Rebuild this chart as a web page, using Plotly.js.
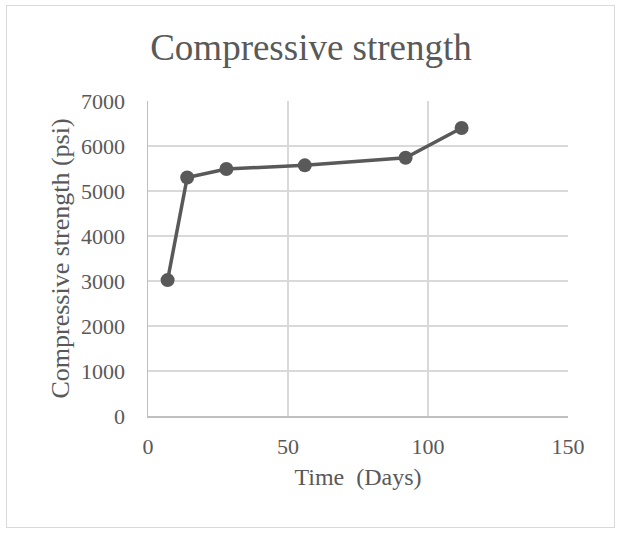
<!DOCTYPE html>
<html>
<head>
<meta charset="utf-8">
<script src="https://cdn.plot.ly/plotly-3.0.1.min.js"></script>
<style>
  html, body { margin: 0; padding: 0; background: #ffffff; }
  #wrap { position: relative; width: 621px; height: 539px; }
  #chart { position: absolute; left: 0; top: 0; width: 621px; height: 539px; }
  #frame { position: absolute; left: 6px; top: 5px; width: 607px; height: 521px; border: 1px solid #d9d9d9; pointer-events: none; }
</style>
</head>
<body>
<div id="wrap">
  <div id="chart"></div>
  <div id="frame"></div>
</div>
<script>
// Data
const days = [7, 14, 28, 56, 92, 112];
const strengthPsi = [3020, 5300, 5490, 5570, 5740, 6400];
const xTickVals = [0, 50, 100, 150];
const yTickVals = [0, 1000, 2000, 3000, 4000, 5000, 6000, 7000];

const chartTitle = "Compressive strength";
const xTitle = "Time\u00a0 (Days)";
const yTitle = "Compressive strength (psi)";

const textColor = "#595959";
const fontFamily = "'Liberation Serif', 'Times New Roman', serif";

const trace = {
  x: days,
  y: strengthPsi,
  type: "scatter",
  mode: "lines+markers",
  line: { color: "#595959", width: 3.5 },
  marker: { color: "#595959", size: 14 },
  hoverinfo: "x+y",
  showlegend: false
};

const layout = {
  width: 621,
  height: 539,
  paper_bgcolor: "#ffffff",
  plot_bgcolor: "#ffffff",
  margin: { l: 148, r: 53, t: 101, b: 123, pad: 0 },
  font: { family: fontFamily, color: textColor, size: 22 },
  title: {
    text: chartTitle,
    font: { family: fontFamily, size: 37, color: textColor },
    x: 311 / 621,
    xanchor: "center",
    xref: "container",
    yref: "container",
    y: 1 - 47 / 539,
    yanchor: "middle"
  },
  xaxis: {
    range: [0, 150],
    tickmode: "array",
    tickvals: xTickVals,
    ticktext: xTickVals.map(String),
    showgrid: true,
    gridcolor: "#d9d9d9",
    gridwidth: 1.5,
    zeroline: false,
    showline: true,
    linecolor: "#bfbfbf",
    linewidth: 1.5,
    ticks: "",
    ticklabelstandoff: 10,
    tickfont: { family: fontFamily, size: 22, color: textColor },
    title: {
      text: xTitle,
      font: { family: fontFamily, size: 24, color: textColor },
      standoff: 10
    },
    automargin: false,
    fixedrange: true
  },
  yaxis: {
    range: [0, 7000],
    tickmode: "array",
    tickvals: yTickVals,
    ticktext: yTickVals.map(String),
    showgrid: true,
    gridcolor: "#d9d9d9",
    gridwidth: 1.5,
    zeroline: false,
    showline: true,
    linecolor: "#bfbfbf",
    linewidth: 1.5,
    ticks: "",
    ticklabelstandoff: 17,
    tickfont: { family: fontFamily, size: 22, color: textColor },
    title: {
      text: yTitle,
      font: { family: fontFamily, size: 26, color: textColor },
      standoff: 4
    },
    automargin: false,
    fixedrange: true
  }
};

Plotly.newPlot("chart", [trace], layout, { displayModeBar: false, staticPlot: true });
</script>
</body>
</html>
